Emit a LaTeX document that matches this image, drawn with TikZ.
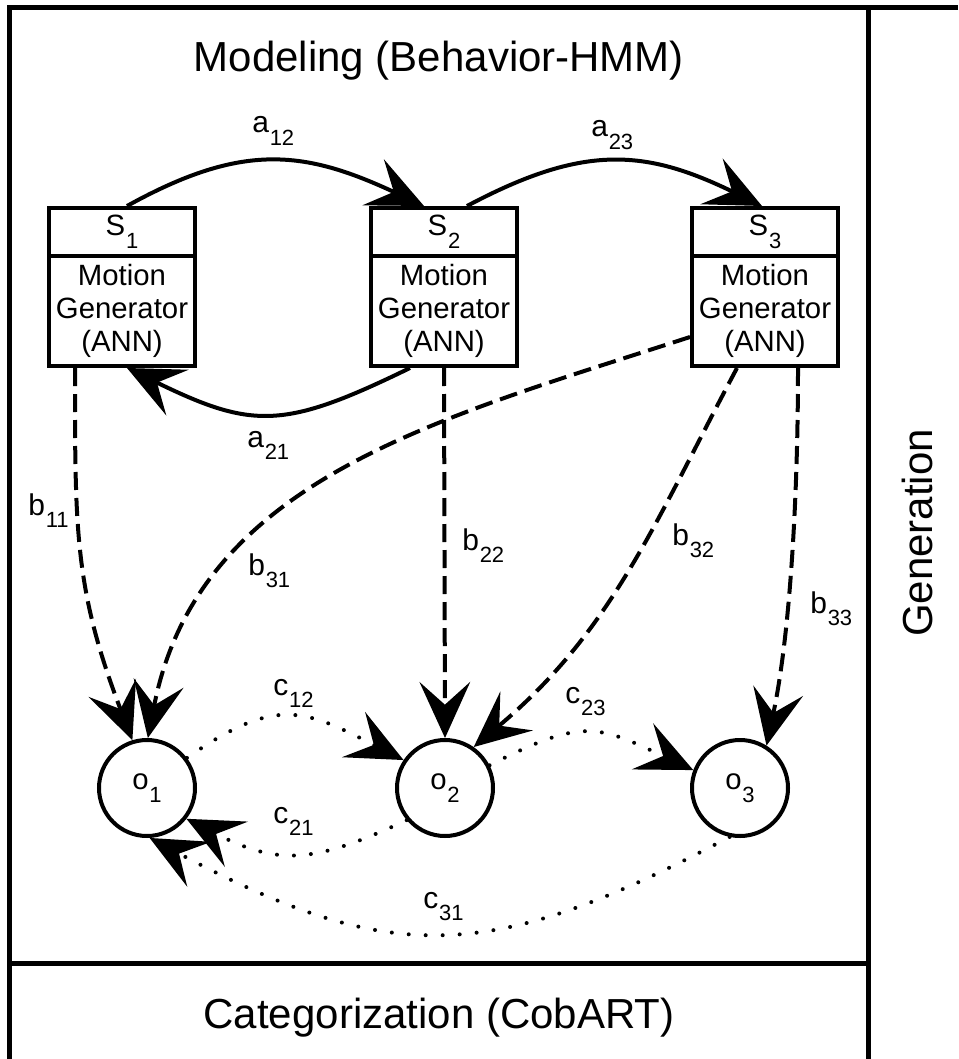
\documentclass[tikz,border=0pt]{standalone}
\usepackage{fontspec}
\setmainfont{Liberation Sans}
\usetikzlibrary{arrows.meta,calc}

% letter with a lowered index, as used for states, weights and observations
\newcommand{\lbl}[2]{#1\kern0.6pt\raisebox{-9.4pt}{\fontsize{16.5}{18}\selectfont #2}}

\begin{document}
\begin{tikzpicture}[x=0.75pt,y=-0.75pt,
  framerule/.style={line width=3.75pt},
  statehead/.style={draw, line width=3pt, fill=white, minimum width=109.5pt,
    minimum height=36pt, inner sep=0pt, font=\fontsize{22}{25}\selectfont},
  statebody/.style={draw, line width=3pt, fill=white, minimum width=109.5pt,
    minimum height=82.5pt, inner sep=0pt, align=center, font=\fontsize{22}{25}\selectfont},
  obsnode/.style={circle, draw, line width=3pt, fill=white, minimum size=72pt,
    inner sep=0pt, font=\fontsize{22}{25}\selectfont},
  arrowtip/.style={-{Stealth[length=42pt,width=38pt,inset=17pt]}},
  transarrow/.style={arrowtip, line width=3pt},
  emitarrow/.style={arrowtip, line width=3pt, dash pattern=on 13.5pt off 6pt},
  corrarrow/.style={arrowtip, line width=3pt, line cap=round, dash pattern=on 0pt off 12.75pt},
  weightlabel/.style={anchor=base west, inner sep=0pt, font=\fontsize{22.5}{25}\selectfont},
  titletext/.style={inner sep=0pt, anchor=base, font=\fontsize{31.5}{36}\selectfont}
]
\useasboundingbox (0,0) rectangle (958,1059);

% panel rules
\draw[framerule] (9.5,1059) -- (9.5,7.5) -- (958,7.5);
\draw[framerule] (868.5,7.5) -- (868.5,1059);
\draw[framerule] (9.5,963) -- (868.5,963);

% panel titles
\node[titletext] (model) at (439,72) {Modeling (Behavior-HMM)};
\node[titletext] (categ) at (439,1028) {Categorization (CobART)};
\node[titletext, rotate=90] (gen) at (932,533) {Generation};

% states with their motion generators
\node[statehead] (S1h) at (122,232) {\lbl{S}{1}};
\node[statebody] (S1b) at (122,311) {Motion\\Generator\\(ANN)};
\node[statehead] (S2h) at (444,232) {\lbl{S}{2}};
\node[statebody] (S2b) at (444,311) {Motion\\Generator\\(ANN)};
\node[statehead] (S3h) at (765,232) {\lbl{S}{3}};
\node[statebody] (S3b) at (765,311) {Motion\\Generator\\(ANN)};

% observations
\node[obsnode] (o1) at (147,788) {\lbl{o}{1}};
\node[obsnode] (o2) at (445,788) {\lbl{o}{2}};
\node[obsnode] (o3) at (740,788) {\lbl{o}{3}};

% state transitions
\draw[transarrow] ($(S1h.north)+(5,0)$) to[out=29,in=155,looseness=1.14] ($(S2h.north)+(-20,0)$);
\draw[transarrow] ($(S2h.north)+(23,0)$) to[out=28,in=154,looseness=1.14] ($(S3h.north)+(-3,0)$);
\draw[transarrow] ($(S2b.south)+(-34,0)$) to[out=206,in=-26,looseness=1.27] ($(S1b.south)+(5,0)$);

% emissions
\draw[emitarrow] ($(S1b.south west)+(28,0)$) to[out=-90,in=111,looseness=1.1] (o1.107);
\draw[emitarrow] ($(S3b.south west)+(0,-31)$) to[out=198,in=79] (o1.89);
\draw[emitarrow] (S2b.south) -- (o2.north);
\draw[emitarrow] ($(S3b.south)+(-28,0)$) to[out=242,in=40] (o2.55);
\draw[emitarrow] ($(S3b.south)+(33,0)$) to[out=-90,in=78,looseness=0.8] (o3.58);

% links between observations
\draw[corrarrow] (o1.37) to[out=35,in=153,looseness=1.3] (o2.146);
\draw[corrarrow] (o2.27) to[out=27,in=155,looseness=1.33] (o3.159);
\draw[corrarrow] (o2.-140) to[out=205,in=-27,looseness=1.2] (o1.-38);
\draw[corrarrow] (o3.-102) to[out=208,in=-28,looseness=1.2] (o1.-87);

% weights
\node[weightlabel] (a12) at (252,133) {\lbl{a}{12}};
\node[weightlabel] (a23) at (591,137) {\lbl{a}{23}};
\node[weightlabel] (a21) at (247,447) {\lbl{a}{21}};
\node[weightlabel] (b11) at (28,515) {\lbl{b}{11}};
\node[weightlabel] (b31) at (248,575) {\lbl{b}{31}};
\node[weightlabel] (b22) at (462,550) {\lbl{b}{22}};
\node[weightlabel] (b32) at (672,545) {\lbl{b}{32}};
\node[weightlabel] (b33) at (810,613) {\lbl{b}{33}};
\node[weightlabel] (c12) at (273,695) {\lbl{c}{12}};
\node[weightlabel] (c23) at (565,703) {\lbl{c}{23}};
\node[weightlabel] (c21) at (273,823) {\lbl{c}{21}};
\node[weightlabel] (c31) at (423,908) {\lbl{c}{31}};
\end{tikzpicture}
\end{document}
